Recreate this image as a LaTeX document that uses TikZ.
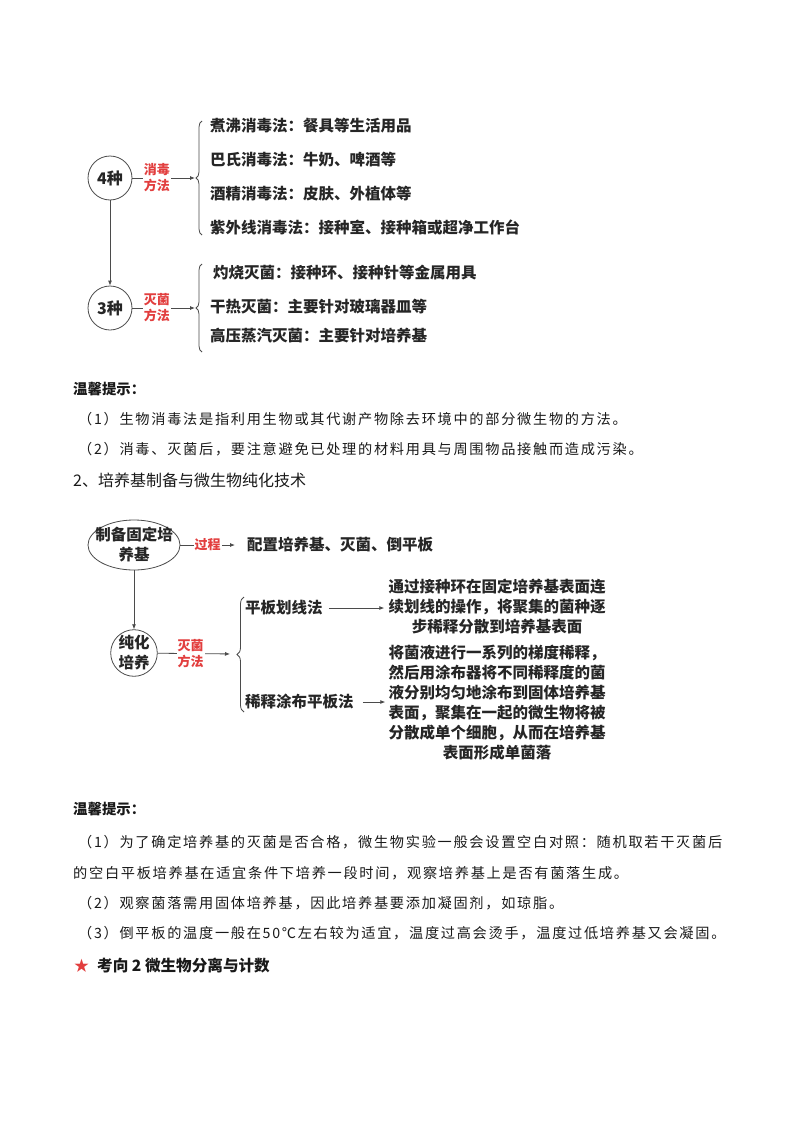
\documentclass[tikz,border=0pt]{standalone}
\usepackage{fontspec}
\setmainfont{Noto Sans CJK SC}
\newfontfamily\bodyfont{Noto Sans CJK SC}[LetterSpace=12]
\usepackage{xcolor}
\usepackage{tikz}
\usetikzlibrary{shapes.geometric, positioning, arrows.meta, decorations.pathreplacing}

\definecolor{labred}{RGB}{226,62,62}
\definecolor{linegray}{RGB}{75,75,75}
\definecolor{inkgray}{RGB}{38,38,38}

\tikzset{
  boxtext/.style={font=\fontsize{15.5}{20}\selectfont\bfseries, text=inkgray, inner sep=0pt},
  item/.style={boxtext, anchor=west},
  desc/.style={boxtext, align=center},
  redlab/.style={font=\fontsize{13}{16}\selectfont\bfseries, text=labred, fill=white, inner sep=1pt, align=center},
  circ/.style={circle, draw=linegray, line width=0.8pt, minimum size=44pt, inner sep=0pt, boxtext, align=center},
  arr/.style={draw=linegray, line width=0.8pt, -{Latex[length=5pt, width=4pt]}},
  brc/.style={draw=linegray, line width=0.8pt, decorate, decoration={brace, amplitude=6pt}},
  bodyline/.style={anchor=west, inner sep=0pt, font=\bodyfont\fontsize{14.2}{16}\selectfont, text=black!90},
  tiphead/.style={anchor=west, inner sep=0pt, font=\fontsize{14.4}{16}\selectfont\bfseries, text=black!90},
}

\begin{document}
\begin{tikzpicture}[x=1pt, y=-1pt]
        \useasboundingbox (0,0) rectangle (800,1132);

        % Disinfection and sterilisation
        \node[circ, font=\fontsize{16}{20}\selectfont\bfseries] (four) at (110,178) {4种};
        \node[circ, font=\fontsize{16}{20}\selectfont\bfseries] (three) at (110,308) {3种};
        \draw[arr] (four) -- (three);

        \coordinate (b1bot) at (202,235);
        \coordinate (b1top) at (202,121);
        \coordinate (b1tip) at (195,178);
        \draw[brc] (b1bot) -- (b1top);
        \draw[arr] (four) -- node[redlab, pos=0.39] {消毒\\方法} (b1tip);

        \node[item] (boil) at (210,126) {煮沸消毒法：餐具等生活用品};
        \node[item] (pasteur) at (210,160) {巴氏消毒法：牛奶、啤酒等};
        \node[item] (alcohol) at (210,194) {酒精消毒法：皮肤、外植体等};
        \node[item] (uv) at (210,228) {紫外线消毒法：接种室、接种箱或超净工作台};

        \coordinate (b2bot) at (202,352);
        \coordinate (b2top) at (202,264);
        \coordinate (b2tip) at (195,308);
        \draw[brc] (b2bot) -- (b2top);
        \draw[arr] (three) -- node[redlab, pos=0.39] {灭菌\\方法} (b2tip);

        \node[item] (burn) at (213,273) {灼烧灭菌：接种环、接种针等金属用具};
        \node[item] (dryheat) at (210,307) {干热灭菌：主要针对玻璃器皿等};
        \node[item] (steam) at (210,336) {高压蒸汽灭菌：主要针对培养基};

        % Tips 1
        \node[tiphead] (tipA) at (73,389) {温馨提示：};
        \node[bodyline] (tipA1) at (78,419) {（1）生物消毒法是指利用生物或其代谢产物除去环境中的部分微生物的方法。};
        \node[bodyline] (tipA2) at (78,449) {（2）消毒、灭菌后，要注意避免已处理的材料用具与周围物品接触而造成污染。};
        \node[anchor=west, inner sep=0pt, font=\fontsize{16}{18}\selectfont, text=black!90] (sec2) at (73,480) {2、培养基制备与微生物纯化技术};

        % Medium and purification
        \node[ellipse, draw=linegray, line width=0.8pt, minimum width=92pt, minimum height=50pt, inner sep=0pt] (prep) at (134,545) {};
        \node[desc] (preptext) at (prep) {制备固定培\\养基};
        \node[item] (proc) at (247,545) {配置培养基、灭菌、倒平板};
        \draw[arr] (prep.east) -- node[redlab] {过程} ([xshift=-12pt]proc.west);

        \node[circ, minimum size=45pt] (pure) at (134,653) {纯化\\培养};
        \draw[arr] (prep) -- (pure);

        \coordinate (b3bot) at (244,712);
        \coordinate (b3top) at (244,597);
        \coordinate (b3tip) at (236,654);
        \draw[brc, decoration={brace, amplitude=7pt}] (b3bot) -- (b3top);
        \draw[arr, shorten >=6pt] (pure) -- node[redlab, pos=0.42] {灭菌\\方法} (b3tip);

        \node[item] (streak) at (245,608) {平板划线法};
        \node[item] (spread) at (245,702) {稀释涂布平板法};

        \node[desc] (d1) at (497,607) {通过接种环在固定培养基表面连\\续划线的操作，将聚集的菌种逐\\步稀释分散到培养基表面};
        \node[desc] (d2) at (497,703) {将菌液进行一系列的梯度稀释，\\然后用涂布器将不同稀释度的菌\\液分别均匀地涂布到固体培养基\\表面，聚集在一起的微生物将被\\分散成单个细胞，从而在培养基\\表面形成单菌落};

        \draw[arr, shorten <=6pt, shorten >=4pt] (streak.east) -- (streak.east -| d1.west);
        \draw[arr, shorten <=9pt, shorten >=3pt] (spread.east) -- (spread.east -| d2.west);

        % Tips 2
        \node[tiphead] (tipB) at (73,809) {温馨提示：};
        \node[bodyline] (tipB1) at (78,842) {（1）为了确定培养基的灭菌是否合格，微生物实验一般会设置空白对照：随机取若干灭菌后};
        \node[bodyline] (tipB1b) at (73,873) {的空白平板培养基在适宜条件下培养一段时间，观察培养基上是否有菌落生成。};
        \node[bodyline] (tipB2) at (78,903) {（2）观察菌落需用固体培养基，因此培养基要添加凝固剂，如琼脂。};
        \node[bodyline] (tipB3) at (78,933) {（3）倒平板的温度一般在50℃左右较为适宜，温度过高会烫手，温度过低培养基又会凝固。};

        \node[anchor=west, inner sep=0pt, font=\fontsize{15}{16}\selectfont, text=labred] (star) at (74,966) {★};
        \node[anchor=west, inner sep=0pt, font=\fontsize{15.6}{18}\selectfont\bfseries, text=black!90] (sec3) at (97,966) {考向 2 微生物分离与计数};
    \end{tikzpicture}
\end{document}
